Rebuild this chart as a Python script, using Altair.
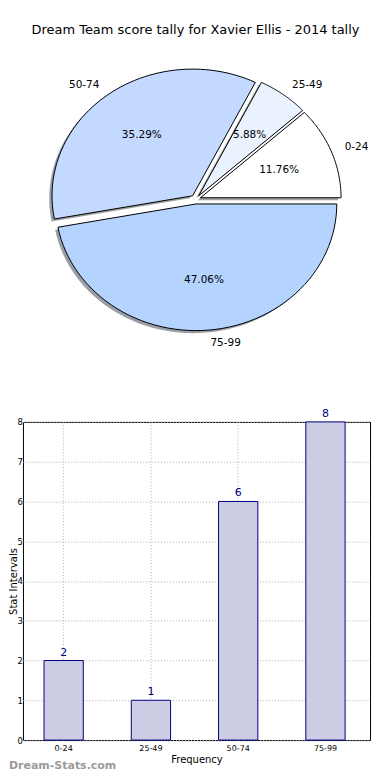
import altair as alt
import pandas as pd

# ---------------- data ----------------
labels = ["0-24", "25-49", "50-74", "75-99"]
counts = [2, 1, 6, 8]
pie_colors = ["#FFFFFF", "#EBF2FF", "#C4D9FF", "#B4D4FF"]
chart_title = "Dream Team score tally for Xavier Ellis - 2014 tally"
y_ticks = [0, 1, 2, 3, 4, 5, 6, 7, 8]
watermark_text = ["Dream-Stats.com"]


def shade(hex_color, f=0.3):
    h = hex_color.lstrip("#")
    r, g, b = (int(h[i:i + 2], 16) for i in (0, 2, 4))
    return "#%02X%02X%02X" % (int(r * f), int(g * f), int(b * f))


shadow_colors = [shade(c) for c in pie_colors]

# ---------------- layout (page pixels) ----------------
FONT = "DejaVu Sans"
CX, CY, RX, RY = 195.2, 193.9, 141.0, 127.0   # pie centre and radii
EXPLODE = 0.036
SHADOW = 0.02
N = 60
PLOT_LEFT = 22
PIE_W, PIE_TOP, PIE_H = 360, 47, 300
BAR_W, BAR_H = 348, 319

x_dom = [(PLOT_LEFT - CX) / RX, (PLOT_LEFT + PIE_W - CX) / RX]
y_dom = [-(PIE_TOP + PIE_H - CY) / RY, (CY - PIE_TOP) / RY]
xs = alt.Scale(domain=x_dom, nice=False, zero=False)
ys = alt.Scale(domain=y_dom, nice=False, zero=False)

df = pd.DataFrame({"label": labels, "count": counts, "idx": list(range(len(labels)))})

base = (
    alt.Chart(df)
    .transform_window(cum="sum(count)", sort=[alt.SortField("idx")], frame=[None, 0])
    .transform_joinaggregate(total="sum(count)")
    .transform_calculate(a0="2*PI*(datum.cum-datum.count)/datum.total")
    .transform_calculate(a1="2*PI*datum.cum/datum.total")
    .transform_calculate(mid="(datum.a0+datum.a1)/2")
    .transform_calculate(pct="format(100*datum.count/datum.total, '.2f') + '%'")
    .transform_calculate(dx=f"{EXPLODE}*cos(datum.mid)")
    .transform_calculate(dy=f"{EXPLODE}*sin(datum.mid)")
)

poly = (
    base.transform_calculate(k=f"sequence(0, {N + 2})")
    .transform_flatten(["k"])
    .transform_calculate(t=f"datum.a0 + (datum.a1-datum.a0)*(datum.k-1)/{N}")
    .transform_calculate(px="datum.dx + (datum.k==0 ? 0 : cos(datum.t))")
    .transform_calculate(py="datum.dy + (datum.k==0 ? 0 : sin(datum.t))")
    .transform_calculate(sx=f"datum.px - {SHADOW}")
    .transform_calculate(sy=f"datum.py - {SHADOW}")
)

shadow = poly.mark_line(interpolate="linear-closed", strokeWidth=0, fillOpacity=0.5).encode(
    x=alt.X("sx:Q", scale=xs, axis=None),
    y=alt.Y("sy:Q", scale=ys, axis=None),
    detail="label:N",
    order="k:Q",
    fill=alt.Fill("label:N", scale=alt.Scale(domain=labels, range=shadow_colors), legend=None),
)

slices = poly.mark_line(interpolate="linear-closed", stroke="black", strokeWidth=1).encode(
    x=alt.X("px:Q", scale=xs, axis=None),
    y=alt.Y("py:Q", scale=ys, axis=None),
    detail="label:N",
    order="k:Q",
    fill=alt.Fill("label:N", scale=alt.Scale(domain=labels, range=pie_colors), legend=None),
)

lab = (
    base.transform_calculate(lx="datum.dx + 1.1*cos(datum.mid)")
    .transform_calculate(ly="datum.dy + 1.1*sin(datum.mid)")
    .transform_calculate(qx="datum.dx + 0.6*cos(datum.mid)")
    .transform_calculate(qy="datum.dy + 0.6*sin(datum.mid)")
    .transform_calculate(c="cos(datum.mid)")
)

lab_r = lab.transform_filter("datum.c >= 0").mark_text(
    align="left", baseline="middle", fontSize=10.5, font=FONT, color="black"
).encode(x=alt.X("lx:Q", scale=xs, axis=None), y=alt.Y("ly:Q", scale=ys, axis=None), text="label:N")

lab_l = lab.transform_filter("datum.c < 0").mark_text(
    align="right", baseline="middle", fontSize=10.5, font=FONT, color="black"
).encode(x=alt.X("lx:Q", scale=xs, axis=None), y=alt.Y("ly:Q", scale=ys, axis=None), text="label:N")

pct = lab.mark_text(align="center", baseline="middle", fontSize=10.5, font=FONT, color="black").encode(
    x=alt.X("qx:Q", scale=xs, axis=None), y=alt.Y("qy:Q", scale=ys, axis=None), text="pct:N"
)

pie = alt.layer(shadow, slices, lab_r, lab_l, pct).resolve_scale(fill="independent").properties(
    width=PIE_W,
    height=PIE_H,
    title=alt.TitleParams(chart_title, fontSize=13, font=FONT, fontWeight="normal",
                          color="black", anchor="middle", offset=16, dx=-7),
    view=alt.ViewBackground(strokeOpacity=0),
)

# ---------------- bar chart ----------------
bdf = pd.DataFrame({"label": labels, "count": counts})

xb = alt.X(
    "label:N", sort=labels,
    scale=alt.Scale(paddingInner=0.55, paddingOuter=0.2636, align=0.458),
    axis=alt.Axis(title="Frequency", labelAngle=0, labelFontSize=8, labelFont=FONT, labelColor="black",
                  titleFontSize=10, titleFont=FONT, titleFontWeight="normal", titleColor="black",
                  titlePadding=2, labelPadding=4, ticks=False, domain=False, grid=True,
                  gridDash=[1, 2], gridColor="#b0b0b0", bandPosition=0.5),
)
yb = alt.Y(
    "count:Q",
    scale=alt.Scale(domain=[0, 8], nice=False),
    axis=alt.Axis(title="Stat Intervals", values=y_ticks, labelFontSize=8.5, labelFont=FONT,
                  labelColor="black", labelPadding=0.5, ticks=False, domain=False, grid=True,
                  gridDash=[1, 2], gridColor="#b0b0b0", labelOverlap=False,
                  titleFontSize=10, titleFont=FONT, titleFontWeight="normal", titleColor="black",
                  titleAngle=270, titleX=8 - PLOT_LEFT, titleY=BAR_H / 2, titleBaseline="top",
                  titleAlign="center"),
)

bars = alt.Chart(bdf).mark_bar(fill="#CCCCE5", stroke="#000080", strokeWidth=1).encode(x=xb, y=yb)
values = alt.Chart(bdf).mark_text(baseline="alphabetic", dy=-5, color="#000080", fontSize=11,
                                  font=FONT).encode(x=xb, y=yb, text="count:Q")
wm = alt.Chart(pd.DataFrame({"t": watermark_text})).mark_text(
    align="left", baseline="middle", fontSize=11, fontWeight="bold", font=FONT, color="#9a9a9a"
).encode(x=alt.value(8 - PLOT_LEFT), y=alt.value(766 - 421), text="t:N")

bar_chart = alt.layer(bars, values, wm).properties(
    width=BAR_W, height=BAR_H,
    view=alt.ViewBackground(stroke="black", strokeWidth=1),
)

chart = alt.vconcat(pie, bar_chart, spacing=55).properties(
    padding={"left": 0, "top": 15, "right": 0, "bottom": 0},
    background="white",
)

chart.save("out.html", embed_options={"renderer": "svg", "actions": False})
